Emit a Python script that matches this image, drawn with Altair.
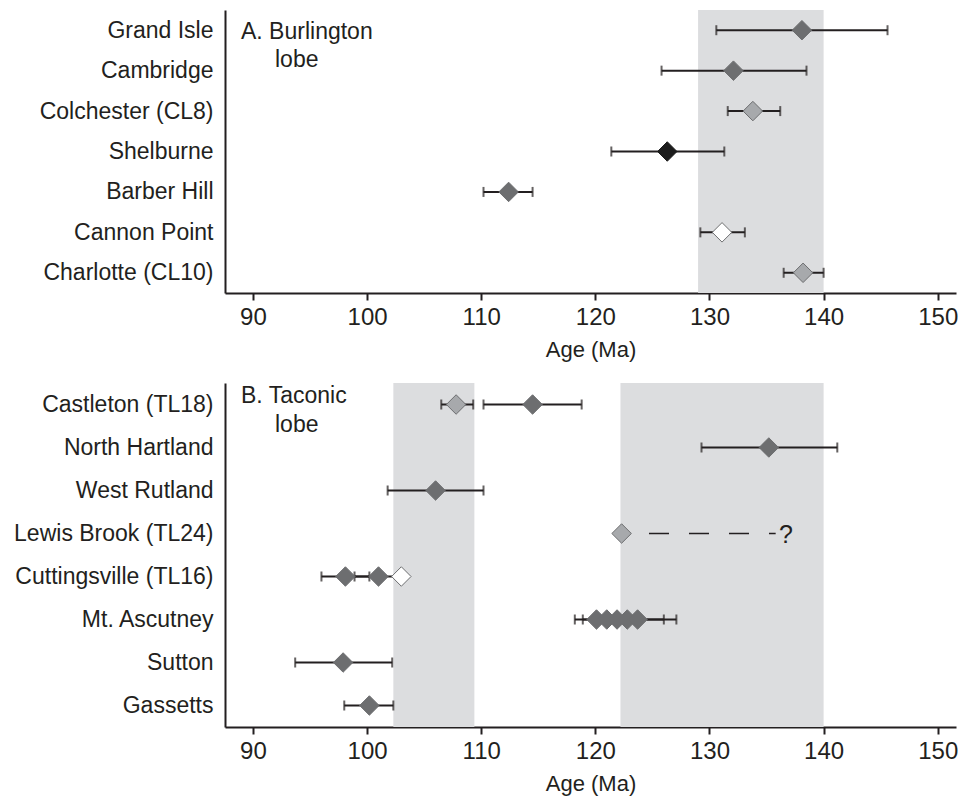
import altair as alt
import pandas as pd

# ---------------- Panel A: Burlington lobe ----------------
samples_a = ["Grand Isle", "Cambridge", "Colchester (CL8)", "Shelburne",
             "Barber Hill", "Cannon Point", "Charlotte (CL10)"]
age_a = [138.1, 132.1, 133.8, 126.3, 112.4, 131.1, 138.2]
lo_a = [130.6, 125.8, 131.6, 121.4, 110.2, 129.2, 136.5]
hi_a = [145.6, 138.5, 136.2, 131.3, 114.5, 133.1, 140.0]
kind_a = ["dark", "dark", "light", "black", "dark", "white", "light"]
band_a_start = [129.0]
band_a_end = [140.0]
label_a = ["A. Burlington", "lobe"]

# ---------------- Panel B: Taconic lobe ----------------
samples_b = ["Castleton (TL18)", "North Hartland", "West Rutland", "Lewis Brook (TL24)",
             "Cuttingsville (TL16)", "Mt. Ascutney", "Sutton", "Gassetts"]
pt_b_sample = ["Castleton (TL18)", "Castleton (TL18)", "North Hartland", "West Rutland",
               "Lewis Brook (TL24)", "Cuttingsville (TL16)", "Cuttingsville (TL16)",
               "Cuttingsville (TL16)", "Mt. Ascutney", "Mt. Ascutney", "Mt. Ascutney",
               "Mt. Ascutney", "Mt. Ascutney", "Sutton", "Gassetts"]
pt_b_age = [107.8, 114.5, 135.2, 106.0, 122.3, 98.1, 101.0, 103.0,
            120.1, 121.0, 121.9, 122.8, 123.7, 97.9, 100.2]
pt_b_kind = ["light", "dark", "dark", "dark", "light", "dark", "dark", "white",
             "dark", "dark", "dark", "dark", "dark", "dark", "dark"]
err_b_sample = ["Castleton (TL18)", "Castleton (TL18)", "North Hartland", "West Rutland",
                "Cuttingsville (TL16)", "Cuttingsville (TL16)", "Mt. Ascutney",
                "Mt. Ascutney", "Sutton", "Gassetts"]
err_b_lo = [106.5, 110.2, 129.3, 101.8, 96.0, 98.9, 118.2, 118.9, 93.7, 98.0]
err_b_hi = [109.3, 118.8, 141.2, 110.2, 100.2, 103.1, 126.0, 127.1, 102.2, 102.3]
dash_b_sample = ["Lewis Brook (TL24)"]
dash_b_lo = [124.7]
dash_b_hi = [135.8]
query_b_age = [136.1]
query_b_text = ["?"]
band_b_start = [102.3, 122.2]
band_b_end = [109.4, 140.0]
label_b = ["B. Taconic", "lobe"]

tick_values = [90, 100, 110, 120, 130, 140, 150]

# ---------------- styling ----------------
FONT = "Liberation Sans"
INK = "#231f20"
kinds = ["dark", "light", "black", "white"]
fills = ["#6d6e70", "#a7a9ac", "#1c1c1c", "#ffffff"]
strokes = ["#6d6e70", "#6d6e70", "#1c1c1c", "#6d6e70"]

x_scale = alt.Scale(domain=[87.55, 151.6], nice=False, zero=False)


def x_axis():
    return alt.Axis(values=tick_values, title="Age (Ma)", grid=False, tickSize=7,
                    tickWidth=2, tickColor=INK, domainColor=INK, domainWidth=2,
                    labelFontSize=24, labelColor=INK, labelPadding=5,
                    titleFontSize=22, titleFontWeight="normal", titleColor=INK,
                    titlePadding=10, labelFont=FONT, titleFont=FONT)


def y_axis():
    return alt.Axis(title=None, ticks=False, domainColor=INK, domainWidth=2,
                    labelFontSize=23, labelColor=INK, labelPadding=12, labelFont=FONT,
                    labelLimit=400, grid=False)


def panel(samples, pts, errs, bands, labels, label_y, height, extra=None):
    y_scale = alt.Scale(domain=samples, type="point", padding=0.5)
    ydef = alt.Y("sample:N", scale=y_scale, axis=y_axis(), sort=samples)

    shade = alt.Chart(bands).mark_rect(color="#dcdddf").encode(
        x=alt.X("start:Q", scale=x_scale, axis=x_axis()),
        x2="end:Q",
    )
    rules = alt.Chart(errs).mark_rule(color=INK, strokeWidth=2).encode(
        x=alt.X("lo:Q", scale=x_scale, axis=x_axis()), x2="hi:Q", y=ydef)
    cap_lo = alt.Chart(errs).mark_tick(color=INK, size=10, thickness=2, orient="vertical").encode(
        x=alt.X("lo:Q", scale=x_scale, axis=x_axis()), y=ydef)
    cap_hi = alt.Chart(errs).mark_tick(color=INK, size=10, thickness=2, orient="vertical").encode(
        x=alt.X("hi:Q", scale=x_scale, axis=x_axis()), y=ydef)
    points = alt.Chart(pts).mark_point(shape="diamond", filled=True, size=380,
                                       strokeWidth=1, opacity=1).encode(
        x=alt.X("age:Q", scale=x_scale, axis=x_axis()),
        y=ydef,
        fill=alt.Fill("kind:N", scale=alt.Scale(domain=kinds, range=fills), legend=None),
        stroke=alt.Stroke("kind:N", scale=alt.Scale(domain=kinds, range=strokes), legend=None),
    )
    lab_df = pd.DataFrame({"text": labels, "px": [16, 50], "py": label_y})
    texts = alt.Chart(lab_df).mark_text(align="left", baseline="alphabetic",
                                        fontSize=23, font=FONT, color=INK).encode(
        x=alt.X("px:Q", scale=None), y=alt.Y("py:Q", scale=None), text="text:N")
    layers = [shade, rules, cap_lo, cap_hi]
    if extra:
        layers += extra
    layers += [points, texts]
    return alt.layer(*layers).properties(width=731, height=height)


# data tables
pts_a = pd.DataFrame({"sample": samples_a, "age": age_a, "kind": kind_a})
errs_a = pd.DataFrame({"sample": samples_a, "lo": lo_a, "hi": hi_a})
bands_a = pd.DataFrame({"start": band_a_start, "end": band_a_end})

pts_b = pd.DataFrame({"sample": pt_b_sample, "age": pt_b_age, "kind": pt_b_kind})
errs_b = pd.DataFrame({"sample": err_b_sample, "lo": err_b_lo, "hi": err_b_hi})
bands_b = pd.DataFrame({"start": band_b_start, "end": band_b_end})
dash_b = pd.DataFrame({"sample": dash_b_sample, "lo": dash_b_lo, "hi": dash_b_hi})
query_b = pd.DataFrame({"sample": dash_b_sample, "age": query_b_age, "text": query_b_text})

yb = alt.Y("sample:N", scale=alt.Scale(domain=samples_b, type="point", padding=0.5),
           axis=y_axis(), sort=samples_b)
dash_rule = alt.Chart(dash_b).mark_rule(color=INK, strokeWidth=1.6, strokeDash=[20, 20]).encode(
    x=alt.X("lo:Q", scale=x_scale, axis=x_axis()), x2="hi:Q", y=yb)
query_text = alt.Chart(query_b).mark_text(align="left", baseline="middle", fontSize=25,
                                          font=FONT, color=INK, dy=1).encode(
    x=alt.X("age:Q", scale=x_scale, axis=x_axis()), y=yb, text="text:N")

top = panel(samples_a, pts_a, errs_a, bands_a, label_a, [29, 57], 283)
bottom = panel(samples_b, pts_b, errs_b, bands_b, label_b, [20, 49], 344,
               extra=[dash_rule, query_text])

chart = alt.vconcat(top, bottom, spacing=23).properties(
    padding={"left": 13, "top": 10, "right": 2, "bottom": 2}
).configure(font=FONT).configure_view(strokeWidth=0)

chart.save("out.html", embed_options={"renderer": "svg", "actions": False})
